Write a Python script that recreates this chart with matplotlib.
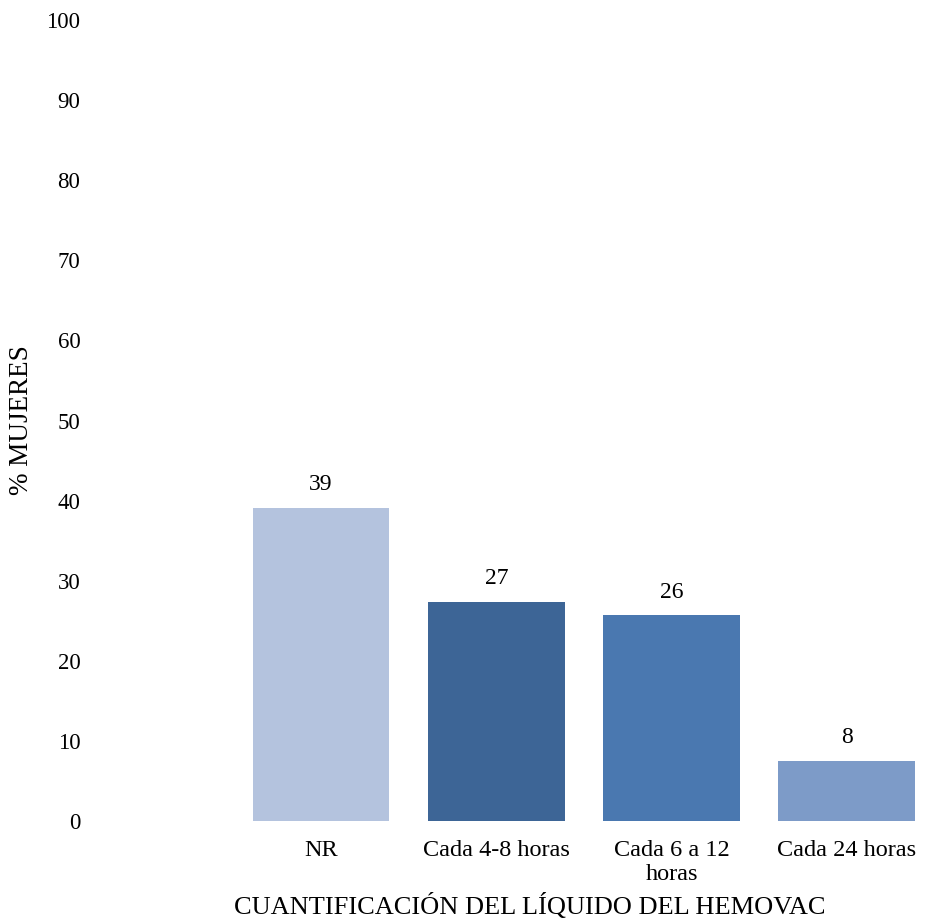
import matplotlib.pyplot as plt

# datos
categorias = ["NR", "Cada 4-8 horas", "Cada 6 a 12\nhoras", "Cada 24 horas"]
porcentajes = [39.1, 27.4, 25.7, 7.5]
etiquetas = ["39", "27", "26", "8"]
colores = ["#B4C3DE", "#3D6596", "#4A78B0", "#7D9BC8"]

plt.rcParams['font.family'] = ['Liberation Serif', 'DejaVu Serif']

fig = plt.figure(figsize=(9.28, 9.21), dpi=100)
ax = fig.add_axes([90 / 928, 100 / 921, 838 / 928, 801 / 921])

pos = list(range(len(categorias)))
barras = ax.bar(pos, porcentajes, width=0.78, color=colores)

for b, txt in zip(barras, etiquetas):
    ax.annotate(txt, (b.get_x() + b.get_width() / 2, b.get_height()),
                xytext=(0, 9), textcoords="offset points",
                ha="center", va="bottom", fontsize=17)

ax.set_xlim(-1.318, 3.463)
ax.set_ylim(0, 100)
ax.set_yticks(range(0, 101, 10))
ax.set_xticks(pos)
ax.set_xticklabels(categorias, fontsize=17.5, linespacing=1.15)
ax.tick_params(axis="y", labelsize=16.5, length=0, pad=7)
ax.tick_params(axis="x", length=0, pad=14)
for s in ax.spines.values():
    s.set_visible(False)

ax.set_ylabel("% MUJERES", fontsize=19.5)
ax.yaxis.set_label_coords((34 - 90) / 838, 0.5)
ax.set_xlabel("CUANTIFICACIÓN DEL LÍQUIDO DEL HEMOVAC", fontsize=19)
ax.xaxis.set_label_coords((530 - 90) / 838, -(893 - 821) / 801)

fig.savefig("out.png", dpi=100)
